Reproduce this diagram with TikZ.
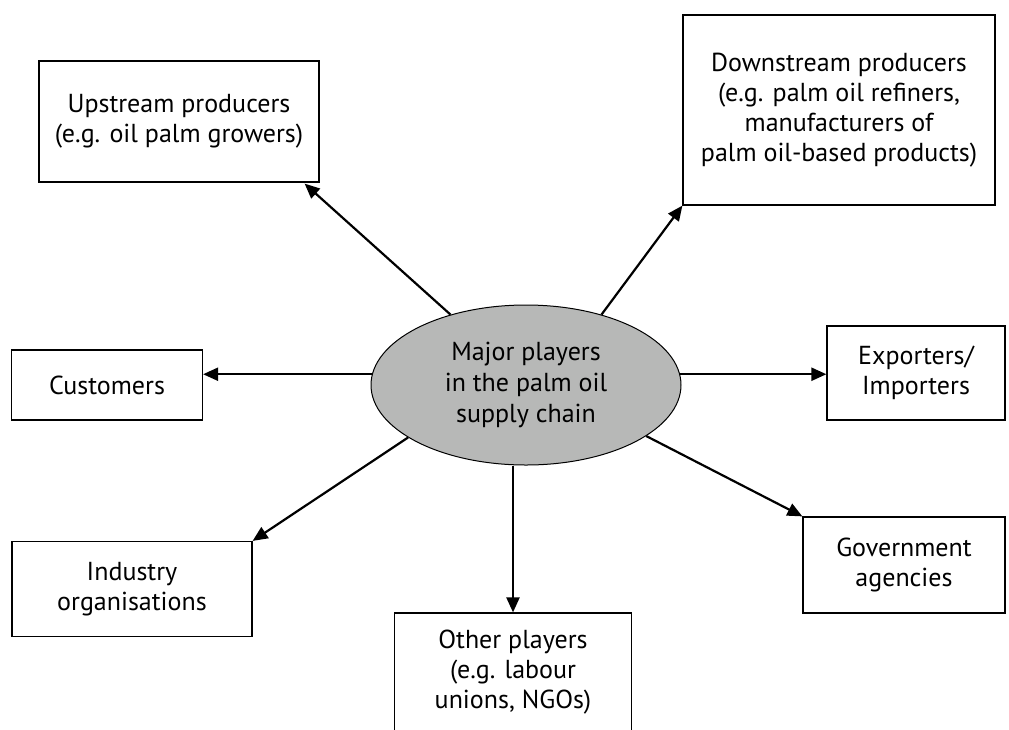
\documentclass[tikz,border=0pt]{standalone}
\usepackage{fontspec}
\setmainfont{PT Sans}
\usepackage{xcolor}
\usepackage{tikz}
\usetikzlibrary{arrows.meta,calc,shapes.geometric}

\definecolor{hubgray}{RGB}{183,184,183}

\begin{document}
\begin{tikzpicture}[x=1pt,y=-1pt,
    box/.style={draw,line width=1.2pt,rectangle,inner sep=0pt,align=center,
        font=\fontsize{26}{30}\selectfont},
    arr/.style={line width=2.2pt,-{Triangle[length=15pt,width=13pt]}}]
    \useasboundingbox (0,0) rectangle (1009,729);

    % Centre ellipse
    \node[draw,line width=1pt,ellipse,fill=hubgray,minimum width=310pt,minimum height=160pt,
        inner sep=0pt,align=center,font=\fontsize{26}{31}\selectfont] (hub) at (526,385)
        {Major players\\in the palm oil\\supply chain};

    % Boxes round it
    \node[box,minimum width=280pt,minimum height=121pt] (up) at (179,121.5)
        {Upstream producers\\(e.g. oil palm growers)};
    \node[box,minimum width=312pt,minimum height=190pt] (down) at (839,110)
        {Downstream producers\\(e.g. palm oil refiners,\\manufacturers of\\palm oil-based products)};
    \node[box,minimum width=191pt,minimum height=70pt] (cust) at (107,385) {Customers};
    \node[box,minimum width=178pt,minimum height=94pt] (exp) at (916,373) {Exporters/\\Importers};
    \node[box,minimum width=202pt,minimum height=96pt] (gov) at (904,565) {Government\\agencies};
    \node[box,minimum width=240pt,minimum height=95pt] (ind) at (132,589) {Industry\\organisations};
    \node[box,minimum width=237pt,minimum height=118pt] (oth) at (513,672)
        {Other players\\(e.g. labour\\unions, NGOs)};

    % Arrows
    \draw[arr] (hub.137) -- ($(up.south east)+(-15,1)$);
    \draw[arr] (hub.43) -- (down.south west);
    \draw[arr] (hub.176) -- (hub.176 -| cust.east);
    \draw[arr] (hub.4) -- (hub.4 -| exp.west);
    \draw[arr] (hub.-23) -- (gov.north west);
    \draw[arr] (hub.204) -- (ind.north east);
    \draw[arr] (oth.north |- hub.south) -- (oth.north);
\end{tikzpicture}
\end{document}
